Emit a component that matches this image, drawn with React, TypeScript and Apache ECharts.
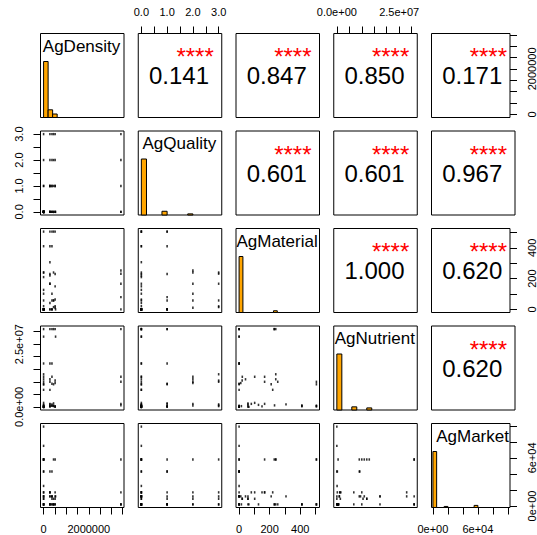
import React, { useEffect, useRef } from 'react';
import * as echarts from 'echarts';

const varNames = ['AgDensity', 'AgQuality', 'AgMaterial', 'AgNutrient', 'AgMarket'];

// observations (distinct points seen in the scatter panels)
const agDensity = [0, 280000, 370000, 440000, 510000, 3420000, 0, 280000, 370000, 440000, 510000, 0, 280000, 370000, 280000, 0, 530000, 0, 280000, 370000, 0, 280000, 0, 0, 0, 0, 280000, 370000, 0, 0, 280000, 370000, 440000, 510000, 3420000, 0, 280000, 370000, 440000, 510000, 3420000, 3420000, 3420000, 440000, 510000, 0, 0, 0, 510000, 0, 0, 280000, 0, 0, 0, 0];
const agQuality = [0, 0, 1, 0, 1, 0, 0, 1, 0, 0, 1, 0, 1, 0, 0, 0, 0, 0, 1, 0, 0, 0, 0, 0, 0, 1, 0, 1, 0, 2, 2, 2, 2, 2, 2, 3, 3, 3, 3, 3, 3, 1, 0, 1, 0, 0, 0, 0, 0, 0, 0, 0, 1, 0, 0, 0];
const agMaterial = [0, 230, 0, 240, 230, 0, 506, 506, 506, 506, 506, 411, 411, 411, 307, 0, 0, 0, 0, 0, 0, 220, 0, 0, 0, 0, 0, 0, 0, 240, 167, 102, 58, 11, 253, 240, 167, 58, 15, 20, 232, 80, 167, 58, 64, 210, 102, 58, 150, 127, 21, 42, 0, 0, 0, 0];
const agNutrient = [31e6, 31e6, 31e6, 31e6, 31e6, 31e6, 10e6, 0.3e6, 0.5e6, 9e6, 0.2e6, 0.6e6, 0.2e6, 0.4e6, 1.0e6, 28e6, 28e6, 17.3e6, 17.3e6, 17.3e6, 6.8e6, 6.8e6, 0, 0, 0, 9e6, 0.2e6, 9.2e6, 0.1e6, 11e6, 1.2e6, 12e6, 0.5e6, 9.5e6, 10e6, 13e6, 10e6, 1.0e6, 0.3e6, 10.5e6, 0.6e6, 1.2e6, 12e6, 1.4e6, 0, 9e6, 1.6e6, 0, 0.2e6, 0.8e6, 12e6, 11e6, 0, 0, 0, 0.5e6];
const agMarket = [58000, 2000, 12000, 2000, 58000, 2000, 58000, 2000, 2000, 58000, 2000, 2000, 2000, 2000, 12000, 17000, 12000, 12000, 2000, 12000, 2000, 17000, 99000, 75000, 43000, 43000, 43000, 43000, 25000, 58000, 17000, 9000, 2000, 12000, 2000, 58000, 17000, 12000, 2000, 9000, 2000, 17000, 58000, 9000, 2000, 12000, 17000, 9000, 17000, 2000, 9000, 12000, 2000, 2000, 12000, 58000];

// histogram bins (start of bin) and counts
const densityBinStart = [0, 200000, 400000];
const densityCounts = [160, 22, 10];
const qualityBinStart = [0, 0.8, 1.8];
const qualityCounts = [150, 10, 3];
const materialBinStart = [0, 225];
const materialCounts = [160, 5];
const nutrientBinStart = [0, 6e6, 12e6];
const nutrientCounts = [160, 9, 6];
const marketBinStart = [0, 15000, 55000];
const marketCounts = [160, 3, 6];
const binWidths = [200000, 0.2, 25, 2e6, 5000];

// correlations (upper panels, row by row)
const corrValues = ['0.141', '0.847', '0.850', '0.171', '0.601', '0.601', '0.967', '1.000', '0.620', '0.620'];
const corrStars = ['****', '****', '****', '****', '****', '****', '****', '****', '****', '****'];

// axis ticks and their labels
const densityTicks = [0, 500000, 1000000, 1500000, 2000000, 2500000, 3000000, 3500000];
const densityTickLabels = ['0', '', '', '', '2000000', '', '', ''];
const qualityTicks = [0, 0.5, 1, 1.5, 2, 2.5, 3];
const qualityTickLabels = ['0.0', '', '1.0', '', '2.0', '', '3.0'];
const materialTicks = [0, 100, 200, 300, 400, 500];
const materialTickLabels = ['0', '', '200', '', '400', ''];
const nutrientTicks = [0, 5e6, 1e7, 1.5e7, 2e7, 2.5e7, 3e7];
const nutrientTickLabels = ['0.0e+00', '', '', '', '', '2.5e+07', ''];
const marketTicks = [0, 20000, 40000, 60000, 80000, 100000];
const marketTickLabels = ['0e+00', '', '', '6e+04', '', ''];

const FONT = "'Liberation Sans', Arial, sans-serif";

export default function App() {
  const ref = useRef<HTMLDivElement>(null);
  useEffect(() => {
    document.body.style.margin = '0';
    const chart = echarts.init(ref.current!, null, { renderer: 'svg' });
    const cols = [agDensity, agQuality, agMaterial, agNutrient, agMarket];
    const bins = [densityBinStart, qualityBinStart, materialBinStart, nutrientBinStart, marketBinStart];
    const counts = [densityCounts, qualityCounts, materialCounts, nutrientCounts, marketCounts];
    const ticks = [densityTicks, qualityTicks, materialTicks, nutrientTicks, marketTicks];
    const tickLabels = [densityTickLabels, qualityTickLabels, materialTickLabels, nutrientTickLabels, marketTickLabels];
    const n = 5;
    const lo: number[] = [];
    const hi: number[] = [];
    for (let v = 0; v < n; v++) {
      const mn = Math.min(...cols[v]);
      const mx = Math.max(...cols[v]);
      const d = mx - mn;
      lo.push(mn - 0.04 * d);
      hi.push(mx + 0.04 * d);
    }
    const left = (j: number) => 40.5 + 97.75 * j;
    const top = (i: number) => 33.5 + 97.5 * i;
    const PW = 83.5;
    const PH = 84;

    const grids: any[] = [];
    const xAxes: any[] = [];
    const yAxes: any[] = [];
    const series: any[] = [];
    const graphics: any[] = [];

    const axisFor = (v: number, gi: number, pos: string | null, isY: boolean) => {
      const shown = pos !== null;
      const labelVals = ticks[v].filter((_, k) => tickLabels[v][k] !== '');
      const ax: any = {
        type: 'value',
        gridIndex: gi,
        min: lo[v],
        max: hi[v],
        axisLine: { show: false, onZero: false },
        splitLine: { show: false },
        axisTick: {
          show: shown,
          length: 7,
          lineStyle: { color: '#000', width: 1 },
          customValues: ticks[v],
        },
        axisLabel: {
          show: shown,
          customValues: labelVals,
          formatter: (val: number) => {
            const k = ticks[v].findIndex((t) => Math.abs(t - val) <= Math.abs(hi[v] - lo[v]) * 1e-6);
            return k >= 0 ? tickLabels[v][k] : '';
          },
          color: '#000',
          fontSize: 11,
          fontFamily: FONT,
          margin: 16,
          rotate: isY ? 90 : 0,
        },
      };
      if (pos) ax.position = pos;
      return ax;
    };

    let corrIdx = 0;
    for (let i = 0; i < n; i++) {
      for (let j = 0; j < n; j++) {
        const gi = grids.length;
        grids.push({
          left: left(j),
          top: top(i),
          width: PW,
          height: PH,
          show: true,
          borderColor: '#000',
          borderWidth: 1,
          backgroundColor: 'transparent',
        });
        let xPos: string | null = null;
        if (i === 0 && j % 2 === 1) xPos = 'top';
        if (i === n - 1 && j % 2 === 0) xPos = 'bottom';
        let yPos: string | null = null;
        if (j === 0 && i % 2 === 1) yPos = 'left';
        if (j === n - 1 && i % 2 === 0) yPos = 'right';
        const xi = xAxes.length;
        xAxes.push(axisFor(j, gi, xPos, false));
        const yi = yAxes.length;
        yAxes.push(axisFor(i, gi, yPos, true));
        const cx = left(j) + PW / 2;
        if (i > j) {
          series.push({
            type: 'scatter',
            xAxisIndex: xi,
            yAxisIndex: yi,
            symbol: 'rect',
            symbolSize: [1.6, 2.4],
            itemStyle: { color: '#000' },
            data: cols[j].map((x, k) => [x, cols[i][k]]),
            silent: true,
          });
        } else if (i === j) {
          const cyi = yAxes.length;
          const maxC = Math.max(...counts[i]);
          yAxes.push({
            type: 'value',
            gridIndex: gi,
            min: 0,
            max: maxC * 1.5,
            show: false,
            axisLine: { onZero: false },
          });
          series.push({
            type: 'custom',
            xAxisIndex: xi,
            yAxisIndex: cyi,
            encode: { x: [0, 1], y: 2 },
            data: bins[i].map((s, k) => [s, s + binWidths[i], counts[i][k]]),
            renderItem: (params: any, api: any) => {
              const p0 = api.coord([api.value(0), 0]);
              const p1 = api.coord([api.value(1), api.value(2)]);
              return {
                type: 'rect',
                shape: { x: p0[0], y: p1[1], width: p1[0] - p0[0], height: p0[1] - p1[1] },
                style: { fill: '#FFA500', stroke: '#000', lineWidth: 1 },
              };
            },
            silent: true,
          });
          graphics.push({
            type: 'text',
            x: cx - 0.7,
            y: top(i) + 12.5,
            style: {
              text: varNames[i],
              font: `17px ${FONT}`,
              fill: '#000',
              textAlign: 'center',
              textVerticalAlign: 'middle',
            },
            z: 10,
          });
        } else {
          graphics.push({
            type: 'text',
            x: left(j) + PW - 8,
            y: top(i) + 23.4,
            style: {
              text: corrStars[corrIdx],
              font: `24px ${FONT}`,
              lineHeight: 12,
              fill: '#FF0000',
              textAlign: 'right',
              textVerticalAlign: 'middle',
            },
            z: 10,
          });
          graphics.push({
            type: 'text',
            x: cx - 1,
            y: top(i) + 42,
            style: {
              text: corrValues[corrIdx],
              font: `24px ${FONT}`,
              lineHeight: 18,
              fill: '#000',
              textAlign: 'center',
              textVerticalAlign: 'middle',
            },
            z: 10,
          });
          corrIdx++;
        }
      }
    }

    chart.setOption({
      animation: false,
      backgroundColor: '#fff',
      grid: grids,
      xAxis: xAxes,
      yAxis: yAxes,
      series,
      graphic: { elements: graphics },
    });
    return () => chart.dispose();
  }, []);
  return <div ref={ref} style={{ position: 'absolute', left: 0, top: 0, width: 537, height: 535 }} />;
}
